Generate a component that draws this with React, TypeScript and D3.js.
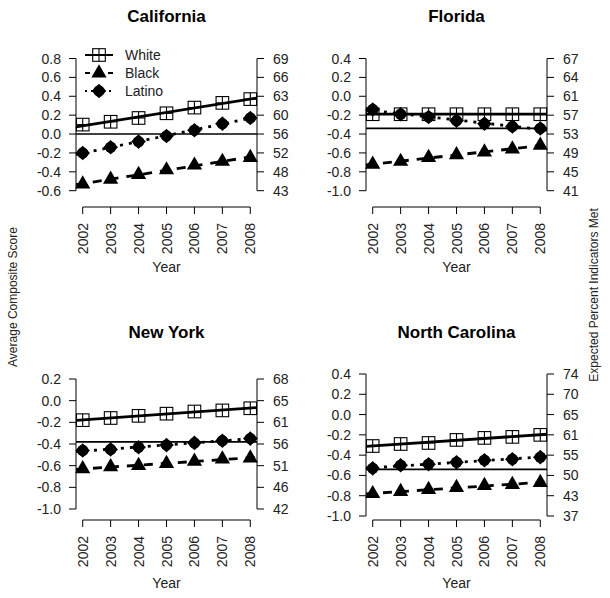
import React from "react";
import * as d3 from "d3";

// ---------- data ----------
const years = [2002, 2003, 2004, 2005, 2006, 2007, 2008];
const stateNames = ["California", "Florida", "New York", "North Carolina"];
const seriesNames = ["White", "Black", "Latino"];

const caWhite = [0.1, 0.13, 0.17, 0.22, 0.28, 0.33, 0.37];
const caBlack = [-0.53, -0.48, -0.43, -0.38, -0.33, -0.29, -0.25];
const caLatino = [-0.2, -0.14, -0.08, -0.02, 0.04, 0.11, 0.17];

const flWhite = [-0.19, -0.19, -0.19, -0.19, -0.19, -0.19, -0.19];
const flBlack = [-0.72, -0.69, -0.65, -0.62, -0.59, -0.56, -0.52];
const flLatino = [-0.14, -0.19, -0.22, -0.26, -0.29, -0.32, -0.34];

const nyWhite = [-0.18, -0.16, -0.14, -0.12, -0.1, -0.09, -0.07];
const nyBlack = [-0.63, -0.61, -0.6, -0.58, -0.56, -0.54, -0.53];
const nyLatino = [-0.46, -0.45, -0.43, -0.41, -0.39, -0.37, -0.35];

const ncWhite = [-0.31, -0.29, -0.28, -0.25, -0.23, -0.22, -0.2];
const ncBlack = [-0.78, -0.76, -0.74, -0.72, -0.7, -0.69, -0.67];
const ncLatino = [-0.53, -0.5, -0.49, -0.47, -0.45, -0.44, -0.42];

const refLines = [0.0, -0.34, -0.38, -0.54];

const caTicks = [0.8, 0.6, 0.4, 0.2, 0.0, -0.2, -0.4, -0.6];
const flTicks = [0.4, 0.2, 0.0, -0.2, -0.4, -0.6, -0.8, -1.0];
const nyTicks = [0.2, 0.0, -0.2, -0.4, -0.6, -0.8, -1.0];
const ncTicks = [0.4, 0.2, 0.0, -0.2, -0.4, -0.6, -0.8, -1.0];

const caRight = ["69", "66", "63", "60", "56", "52", "48", "43"];
const flRight = ["67", "64", "61", "57", "53", "49", "45", "41"];
const nyRight = ["68", "65", "61", "56", "51", "46", "42"];
const ncRight = ["74", "70", "65", "61", "55", "50", "43", "37"];

const leftTitle = "Average Composite Score";
const rightTitle = "Expected Percent Indicators Met";
const xTitle = "Year";

// ---------- layout ----------
const FONT = "'Liberation Sans', Arial, Helvetica, sans-serif";
const colX = [
  [76, 257],
  [366, 547],
];
const rowY = [
  { title: 22, axis: 207, year: 272 },
  { title: 338, axis: 520, year: 588 },
];
const tickPix = [
  [58.5, 190.7],
  [58.5, 190.7],
  [379, 509],
  [374, 516],
];

const panels = [
  { name: stateNames[0], data: [caWhite, caBlack, caLatino], ticks: caTicks, right: caRight, ref: refLines[0], col: 0, row: 0, legend: true },
  { name: stateNames[1], data: [flWhite, flBlack, flLatino], ticks: flTicks, right: flRight, ref: refLines[1], col: 1, row: 0, legend: false },
  { name: stateNames[2], data: [nyWhite, nyBlack, nyLatino], ticks: nyTicks, right: nyRight, ref: refLines[2], col: 0, row: 1, legend: false },
  { name: stateNames[3], data: [ncWhite, ncBlack, ncLatino], ticks: ncTicks, right: ncRight, ref: refLines[3], col: 1, row: 1, legend: false },
];

const lineStyles = [
  { dash: undefined as string | undefined, width: 2.8 },
  { dash: "9,8", width: 2.8 },
  { dash: "3,6", width: 2.8 },
];

function fit(xs: number[], ys: number[]) {
  const mx = d3.mean(xs)!;
  const my = d3.mean(ys)!;
  let sxy = 0;
  let sxx = 0;
  xs.forEach((x, i) => {
    sxy += (x - mx) * (ys[i] - my);
    sxx += (x - mx) * (x - mx);
  });
  const b = sxy / sxx;
  return (x: number) => my + b * (x - mx);
}

function Marker({ kind, x, y }: { kind: number; x: number; y: number }) {
  if (kind === 0) {
    const h = 6.3;
    return (
      <g stroke="#000" strokeWidth={1.1} fill="none">
        <rect x={x - h} y={y - h} width={2 * h} height={2 * h} />
        <line x1={x - h} x2={x + h} y1={y} y2={y} />
        <line x1={x} x2={x} y1={y - h} y2={y + h} />
      </g>
    );
  }
  if (kind === 1) {
    const r = 8.8;
    const p = [
      [x, y - r],
      [x + r * 0.866, y + r * 0.5],
      [x - r * 0.866, y + r * 0.5],
    ];
    return <polygon points={p.map((q) => q.join(",")).join(" ")} fill="#000" />;
  }
  const d = 7.3;
  return (
    <g fill="#000">
      <polygon points={`${x},${y - d} ${x + d},${y} ${x},${y + d} ${x - d},${y}`} />
      <circle cx={x} cy={y} r={5.7} />
    </g>
  );
}

function Panel({ p, idx }: { p: (typeof panels)[number]; idx: number }) {
  const [xl, xr] = colX[p.col];
  const row = rowY[p.row];
  const x = d3
    .scaleLinear()
    .domain([years[0] - 0.24, years[years.length - 1] + 0.24])
    .range([xl, xr]);
  const t0 = p.ticks[0];
  const t1 = p.ticks[p.ticks.length - 1];
  const y = d3.scaleLinear().domain([t0, t1]).range(tickPix[idx]);
  const [yt, yb] = tickPix[idx];
  const cx = (x(years[0]) + x(years[years.length - 1])) / 2;
  const clipId = `clip${idx}`;
  const clipTop = yt - 25;
  const clipBot = row.axis - 6;

  return (
    <g>
      <defs>
        <clipPath id={clipId}>
          <rect x={xl} y={clipTop} width={xr - xl} height={clipBot - clipTop} />
        </clipPath>
      </defs>
      <text x={(xl + xr) / 2} y={row.title} textAnchor="middle" fontSize={17} fontWeight="bold" fontFamily={FONT}>
        {p.name}
      </text>

      {/* left axis */}
      <line x1={xl} x2={xl} y1={yt} y2={yb} stroke="#000" strokeWidth={1} />
      {p.ticks.map((t) => (
        <g key={"l" + t}>
          <line x1={xl - 7} x2={xl} y1={y(t)} y2={y(t)} stroke="#000" />
          <text x={xl - 15} y={y(t)} dy="0.36em" textAnchor="end" fontSize={14} fontFamily={FONT} fill="#222">
            {t.toFixed(1)}
          </text>
        </g>
      ))}

      {/* right axis */}
      <line x1={xr} x2={xr} y1={yt} y2={yb} stroke="#000" strokeWidth={1} />
      {p.ticks.map((t, i) => (
        <g key={"r" + t}>
          <line x1={xr} x2={xr + 7} y1={y(t)} y2={y(t)} stroke="#000" />
          <text x={xr + 16} y={y(t)} dy="0.36em" textAnchor="start" fontSize={14} fontFamily={FONT} fill="#222">
            {p.right[i]}
          </text>
        </g>
      ))}

      {/* x axis */}
      <line x1={x(years[0])} x2={x(years[years.length - 1])} y1={row.axis} y2={row.axis} stroke="#000" />
      {years.map((yr) => (
        <g key={yr}>
          <line x1={x(yr)} x2={x(yr)} y1={row.axis} y2={row.axis + 7} stroke="#000" />
          <text
            transform={`translate(${x(yr)},${row.axis + 16}) rotate(-90)`}
            dy="0.36em"
            textAnchor="end"
            fontSize={14}
            fontFamily={FONT}
            fill="#222"
          >
            {yr}
          </text>
        </g>
      ))}
      <text x={cx} y={row.year} textAnchor="middle" fontSize={14} fontFamily={FONT} fill="#222">
        {xTitle}
      </text>

      {/* reference line */}
      <line x1={xl} x2={xr} y1={y(p.ref)} y2={y(p.ref)} stroke="#000" strokeWidth={1.6} />

      {/* fitted lines */}
      <g clipPath={`url(#${clipId})`}>
        {p.data.map((vals, s) => {
          const f = fit(years, vals);
          const a = x.invert(xl);
          const b = x.invert(xr);
          return (
            <line
              key={s}
              x1={xl}
              x2={xr}
              y1={y(f(a))}
              y2={y(f(b))}
              stroke="#000"
              strokeWidth={lineStyles[s].width}
              strokeDasharray={lineStyles[s].dash}
            />
          );
        })}
      </g>

      {/* markers */}
      {p.data.map((vals, s) => (
        <g key={"m" + s}>
          {vals.map((v, i) => (
            <Marker key={i} kind={s} x={x(years[i])} y={y(v)} />
          ))}
        </g>
      ))}

      {p.legend &&
        seriesNames.map((nm, s) => {
          const ly = 55 + s * 18;
          return (
            <g key={nm}>
              <line
                x1={85}
                x2={113}
                y1={ly}
                y2={ly}
                stroke="#000"
                strokeWidth={2}
                strokeDasharray={s === 1 ? "5,18" : s === 2 ? "2,4" : undefined}
              />
              <Marker kind={s} x={99} y={ly} />
              <text x={125} y={ly} dy="0.36em" fontSize={14} fontFamily={FONT} fill="#222">
                {nm}
              </text>
            </g>
          );
        })}
    </g>
  );
}

export default function App() {
  return (
    <svg
      width={610}
      height={598}
      style={{ position: "absolute", left: 0, top: 0, background: "#fff" }}
    >
      <rect width={610} height={598} fill="#fff" />
      {panels.map((p, i) => (
        <Panel key={p.name} p={p} idx={i} />
      ))}
      <text transform="translate(13,297) rotate(-90)" dy="0.36em" textAnchor="middle" fontSize={12} fontFamily={FONT} fill="#222">
        {leftTitle}
      </text>
      <text transform="translate(594,295) rotate(-90)" dy="0.36em" textAnchor="middle" fontSize={12} fontFamily={FONT} fill="#222">
        {rightTitle}
      </text>
    </svg>
  );
}
